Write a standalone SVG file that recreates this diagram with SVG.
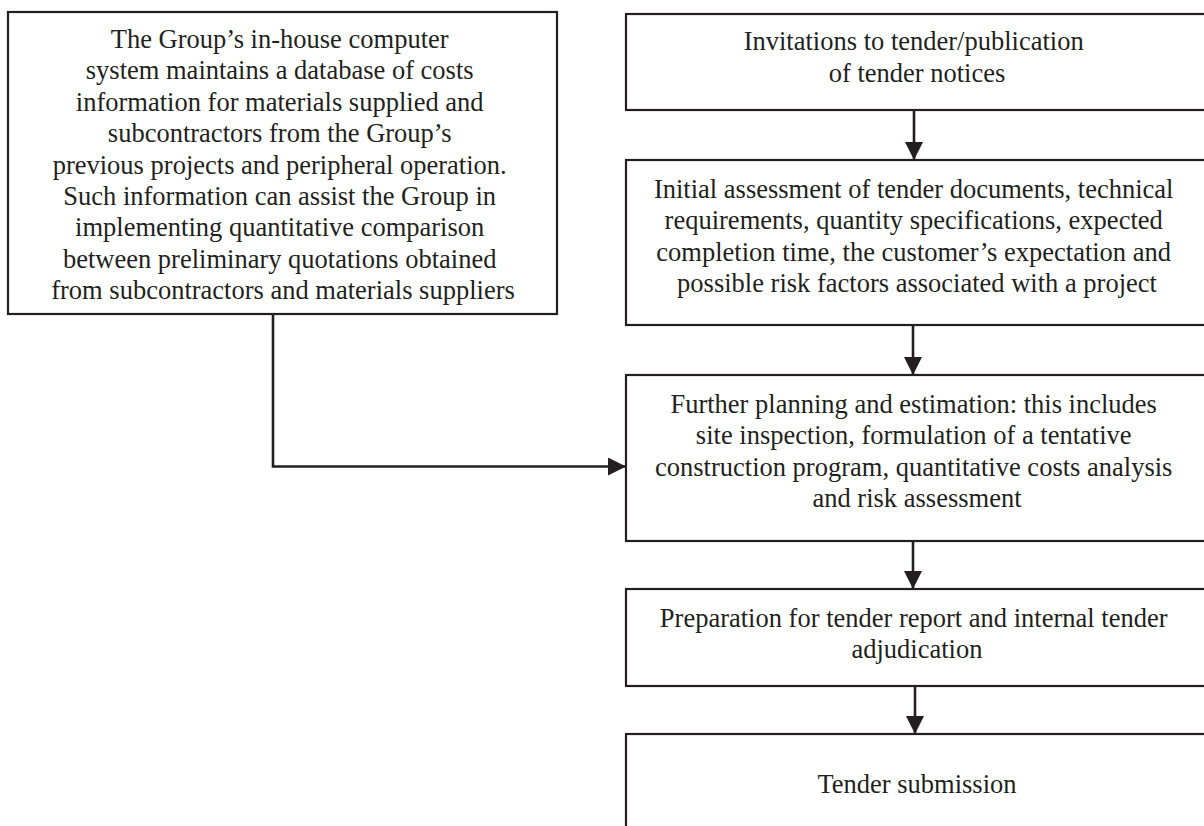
<svg xmlns="http://www.w3.org/2000/svg" width="1204" height="826" viewBox="0 0 1204 826">
  <style>
    .box { fill: #ffffff; stroke: #231f20; stroke-width: 2.2; }
    .lbl { font-family: "Liberation Serif", "Times New Roman", serif; font-size: 26.5px; fill: #231f20; text-anchor: middle; }
    .conn { fill: none; stroke: #231f20; stroke-width: 2.6; }
  </style>
  <defs>
    <marker id="arrow" markerUnits="userSpaceOnUse" markerWidth="18" markerHeight="18" refX="18" refY="9" orient="auto">
      <path d="M0,0 L18,9 L0,18 z" fill="#231f20"/>
    </marker>
  </defs>
  <rect width="1204" height="826" fill="#ffffff"/>

  <g id="connectors">
    <line class="conn" x1="914" y1="110" x2="914" y2="160" marker-end="url(#arrow)"/>
    <line class="conn" x1="913" y1="325" x2="913" y2="375" marker-end="url(#arrow)"/>
    <line class="conn" x1="913" y1="541" x2="913" y2="589" marker-end="url(#arrow)"/>
    <line class="conn" x1="915" y1="686" x2="915" y2="734" marker-end="url(#arrow)"/>
    <polyline class="conn" points="273,314 273,466.5 626,466.5" marker-end="url(#arrow)"/>
  </g>

  <g id="node-database">
    <rect class="box" x="8" y="12" width="549" height="302"/>
    <text class="lbl">
      <tspan x="283" y="48">The Group’s in-house computer</tspan>
      <tspan x="283" y="79.4">system maintains a database of costs</tspan>
      <tspan x="283" y="110.8">information for materials supplied and</tspan>
      <tspan x="283" y="142.2">subcontractors from the Group’s</tspan>
      <tspan x="283" y="173.6">previous projects and peripheral operation.</tspan>
      <tspan x="283" y="205">Such information can assist the Group in</tspan>
      <tspan x="283" y="236.4">implementing quantitative comparison</tspan>
      <tspan x="283" y="267.8">between preliminary quotations obtained</tspan>
      <tspan x="283" y="299.2">from subcontractors and materials suppliers</tspan>
    </text>
  </g>

  <g id="node-invitations">
    <rect class="box" x="626" y="14" width="600" height="96"/>
    <text class="lbl">
      <tspan x="917" y="50">Invitations to tender/publication</tspan>
      <tspan x="917" y="81.5">of tender notices</tspan>
    </text>
  </g>

  <g id="node-initial">
    <rect class="box" x="626" y="160" width="600" height="165"/>
    <text class="lbl">
      <tspan x="917" y="198">Initial assessment of tender documents, technical</tspan>
      <tspan x="917" y="229.4">requirements, quantity specifications, expected</tspan>
      <tspan x="917" y="260.8">completion time, the customer’s expectation and</tspan>
      <tspan x="917" y="292.2">possible risk factors associated with a project</tspan>
    </text>
  </g>

  <g id="node-planning">
    <rect class="box" x="626" y="375" width="600" height="166"/>
    <text class="lbl">
      <tspan x="917" y="413">Further planning and estimation: this includes</tspan>
      <tspan x="917" y="444.4">site inspection, formulation of a tentative</tspan>
      <tspan x="917" y="475.8">construction program, quantitative costs analysis</tspan>
      <tspan x="917" y="507.2">and risk assessment</tspan>
    </text>
  </g>

  <g id="node-preparation">
    <rect class="box" x="626" y="589" width="600" height="97"/>
    <text class="lbl">
      <tspan x="917" y="627">Preparation for tender report and internal tender</tspan>
      <tspan x="917" y="658.4">adjudication</tspan>
    </text>
  </g>

  <g id="node-submission">
    <rect class="box" x="626" y="734" width="600" height="120"/>
    <text class="lbl" x="917" y="793">Tender submission</text>
  </g>
</svg>
